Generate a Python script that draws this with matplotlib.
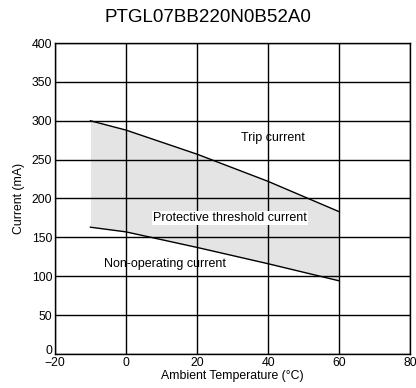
import matplotlib.pyplot as plt
import matplotlib.transforms as mtransforms
import numpy as np

plt.rcParams['font.family'] = ['Liberation Sans', 'DejaVu Sans']

temp = [-10, 0, 20, 40, 60]
trip = [300, 288, 257, 222, 183]
nonop = [163, 157, 137, 116, 94]

fig = plt.figure(figsize=(4.16, 3.88), dpi=100)
ax = fig.add_axes([0.132, 0.088, 0.854, 0.801])

ax.fill_between(temp, nonop, trip, color='#e4e4e4', linewidth=0, zorder=1)
ax.plot(temp, trip, color='black', linewidth=1, zorder=3)
ax.plot(temp, nonop, color='black', linewidth=1, zorder=3)

ax.set_xlim(-20, 80)
ax.set_ylim(0, 400)
ax.set_xticks([-20, 0, 20, 40, 60, 80])
ax.set_xticklabels(['\u221220', '0', '20', '40', '60', '80'])
ax.set_yticks(np.arange(0, 401, 50))
ax.grid(True, color='black', linewidth=1, zorder=2)
ax.set_axisbelow(False)
ax.tick_params(length=0, labelsize=8.8, pad=2)
for s in ax.spines.values():
    s.set_linewidth(1)

# lift the bottom y label a little so it clears the -20
lab0 = ax.get_yticklabels()[0]
lab0.set_transform(lab0.get_transform() + mtransforms.ScaledTranslation(0, 4/100, fig.dpi_scale_trans))

ax.text(41.3, 278, 'Trip current', fontsize=9, ha='center', va='center', zorder=4)
ax.text(29.3, 175, 'Protective threshold current', fontsize=9, ha='center', va='center',
        zorder=4, bbox=dict(facecolor='white', edgecolor='none', pad=1))
ax.text(11, 116, 'Non-operating current', fontsize=9, ha='center', va='center', zorder=4)

ax.set_xlabel('Ambient Temperature (\u00b0C)', fontsize=8.8, labelpad=1)
ax.set_ylabel('Current (mA)', fontsize=8.8, labelpad=5)
fig.text(0.5, 0.955, 'PTGL07BB220N0B52A0', fontsize=13.5, ha='center', va='center')

fig.savefig('out.png', dpi=100)
